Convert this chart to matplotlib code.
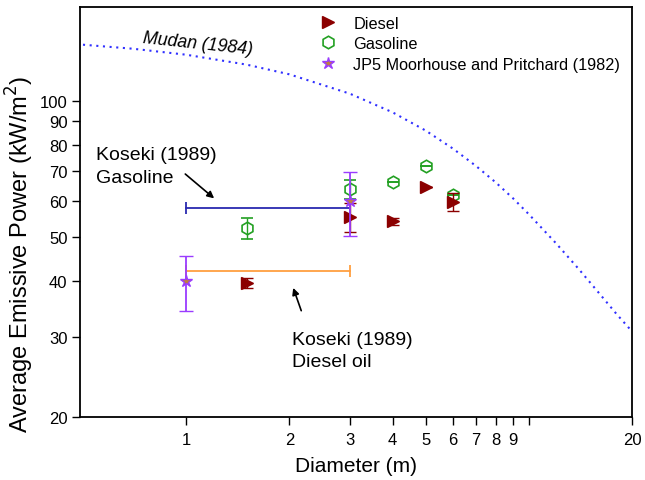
import matplotlib
matplotlib.use("Agg")
import matplotlib.pyplot as plt
from matplotlib.lines import Line2D
from matplotlib.ticker import FixedLocator, FixedFormatter, NullLocator

plt.rcParams['font.family'] = ['Liberation Sans', 'DejaVu Sans']

# ---- data ----
diesel_d = [1.5, 3, 4, 5, 6]
diesel_e = [39.5, 55.3, 54.2, 64.4, 59.7]
diesel_err = [1.0, 4.0, 1.0, 0.0, 2.7]

gas_d = [1.5, 3, 4, 5, 6]
gas_e = [52.3, 63.7, 66.0, 71.6, 61.9]
gas_err = [2.8, 3.0, 0.0, 0.0, 0.0]

jp5_d = [1, 3]
jp5_e = [40.0, 60.0]
jp5_lo = [5.7, 9.8]
jp5_hi = [5.3, 9.5]

koseki_d = [1, 3]
koseki_gas = [58, 58]
koseki_diesel = [42, 42]

mudan_d = [0.5, 0.7, 1, 1.5, 2, 3, 4, 5, 6, 7, 8, 9, 10, 12, 14, 16, 18, 20]
mudan_e = [133, 130.3, 126.4, 120.2, 114.4, 103.7, 94.3, 85.9, 78.4, 71.8,
           66.0, 60.8, 56.1, 48.4, 42.4, 37.6, 33.8, 30.9]

xticks = [1, 2, 3, 4, 5, 6, 7, 8, 9, 10, 20]
xticklabels = ['1', '2', '3', '4', '5', '6', '7', '8', '9', '', '20']
yticks = [20, 30, 40, 50, 60, 70, 80, 90, 100]
yticklabels = ['20', '30', '40', '50', '60', '70', '80', '90', '100']

c_diesel = '#8B0000'
c_gas = '#22A022'
c_jp5 = '#9A3CFF'

# ---- figure ----
fig = plt.figure(figsize=(6.45, 4.81), dpi=100)
ax = fig.add_axes([0.124, 0.131, 0.856, 0.852])
ax.set_xscale('log')
ax.set_yscale('log')
ax.set_xlim(0.49, 20)
ax.set_ylim(20, 161)

ax.plot(mudan_d, mudan_e, linestyle=(0, (1, 2.2)), color='#3030FF', linewidth=1.5, zorder=1)

ax.plot(koseki_d, koseki_gas, color='#2A2AB0', linewidth=1.3, marker='|',
        markersize=9, markeredgewidth=1.3, zorder=2)
ax.plot(koseki_d, koseki_diesel, color='#FF9F40', linewidth=1.3, marker='|',
        markersize=9, markeredgewidth=1.3, zorder=2)

ax.errorbar(diesel_d, diesel_e, yerr=diesel_err, fmt='>', color=c_diesel,
            markersize=8, capsize=4, elinewidth=1.0, capthick=1.0, zorder=4)
ax.errorbar(gas_d, gas_e, yerr=gas_err, fmt='h', color=c_gas,
            markerfacecolor='none', markeredgewidth=1.2,
            markersize=9, capsize=4, elinewidth=1.0, capthick=1.0, zorder=3)
ax.errorbar(jp5_d, jp5_e, yerr=[jp5_lo, jp5_hi], fmt='*', color=c_jp5,
            markerfacecolor='#C08040', markeredgecolor=c_jp5, markeredgewidth=1.0,
            markersize=9, capsize=5, elinewidth=1.3, capthick=1.3, zorder=5)

ax.xaxis.set_major_locator(FixedLocator(xticks))
ax.xaxis.set_major_formatter(FixedFormatter(xticklabels))
ax.xaxis.set_minor_locator(NullLocator())
ax.yaxis.set_major_locator(FixedLocator(yticks))
ax.yaxis.set_major_formatter(FixedFormatter(yticklabels))
ax.yaxis.set_minor_locator(NullLocator())
ax.tick_params(direction='out', length=6, width=1, labelsize=12, pad=3)
ax.tick_params(axis='x', pad=5)

for s in ax.spines.values():
    s.set_linewidth(1.3)

ax.set_xlabel('Diameter (m)', fontsize=15, labelpad=6)
ax.set_ylabel('Average Emissive Power (kW/m$^2$)', fontsize=17)
ax.yaxis.set_label_coords(-0.08, 0.40)

handles = [
    Line2D([], [], linestyle='none', marker='>', color=c_diesel, markersize=8),
    Line2D([], [], linestyle='none', marker='h', color=c_gas, markerfacecolor='none',
           markeredgewidth=1.2, markersize=9),
    Line2D([], [], linestyle='none', marker='*', color=c_jp5, markerfacecolor='#C08040',
           markeredgecolor=c_jp5, markersize=9),
]
labels = ['Diesel', 'Gasoline', 'JP5 Moorhouse and Pritchard (1982)']
ax.legend(handles, labels, loc='upper left', bbox_to_anchor=(0.4085, 1.015),
          frameon=False, fontsize=11.7, handlelength=1.0, handletextpad=1.05,
          labelspacing=0.34)

ax.text(0.743, 134.5, 'Mudan (1984)', fontsize=12.8, style='italic', rotation=-6,
        rotation_mode='anchor', ha='left', va='baseline')

ax.text(0.545, 74.2, 'Koseki (1989)', fontsize=14, ha='left', va='baseline')
ax.text(0.545, 66.0, 'Gasoline', fontsize=14, ha='left', va='baseline')
ax.annotate('', xy=(1.224, 60.3), xytext=(0.98, 69.5),
            arrowprops=dict(arrowstyle='-|>', color='black', lw=1.2,
                            mutation_scale=10))

ax.text(2.03, 29.0, 'Koseki (1989)', fontsize=14, ha='left', va='baseline')
ax.text(2.03, 25.9, 'Diesel oil', fontsize=14, ha='left', va='baseline')
ax.annotate('', xy=(2.04, 39.1), xytext=(2.18, 33.9),
            arrowprops=dict(arrowstyle='-|>', color='black', lw=1.2,
                            mutation_scale=10))

fig.savefig('out.png', dpi=100)
